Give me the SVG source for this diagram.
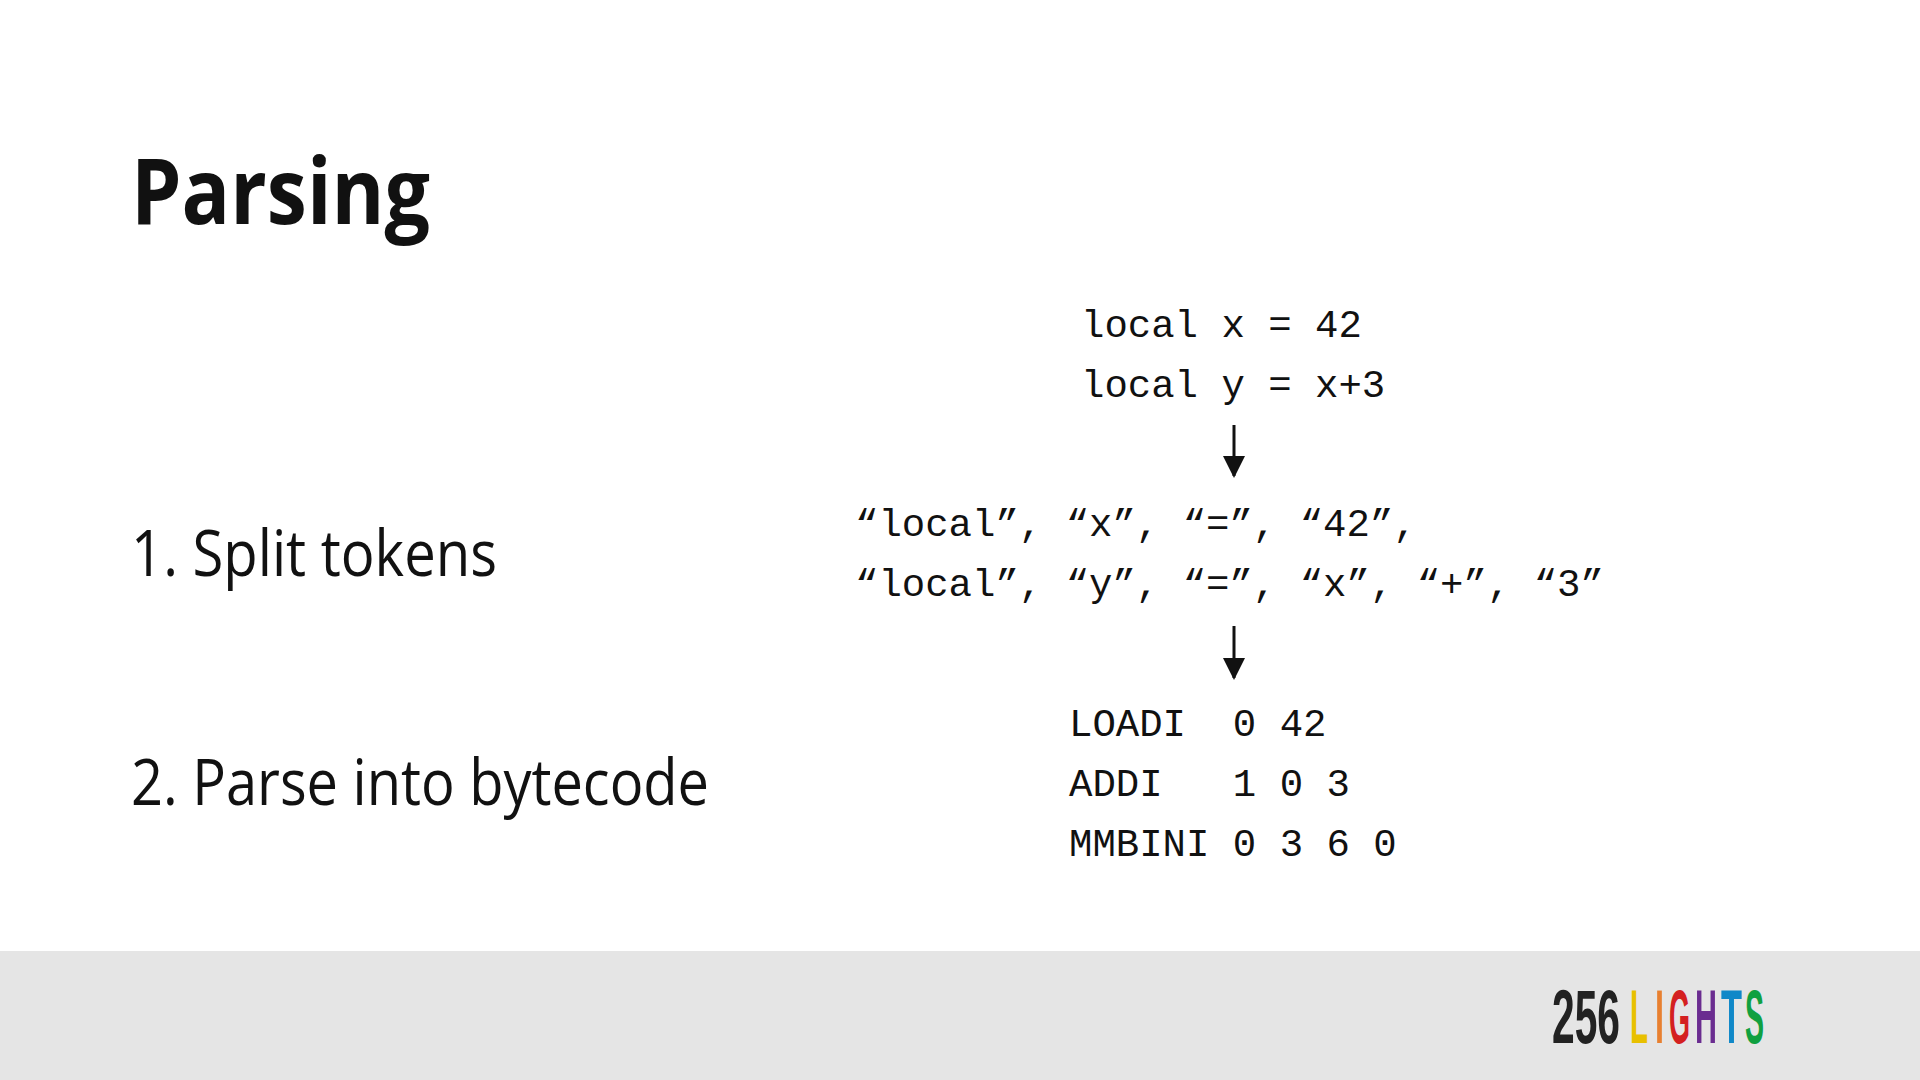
<svg xmlns="http://www.w3.org/2000/svg" width="1920" height="1080" viewBox="0 0 1920 1080">
<style>
.t{font-family:"Open Sans","Liberation Sans",sans-serif;fill:#111}
.m{font-family:"Liberation Mono","DejaVu Sans Mono",monospace;font-size:39px;fill:#111}
.lg{font-family:"Liberation Sans",sans-serif;font-size:76px;font-weight:bold}
</style>
<defs><marker id="ah" markerWidth="22" markerHeight="22" refX="20" refY="11" orient="auto" markerUnits="userSpaceOnUse" viewBox="0 0 22 22"><path d="M0,0 L22,11 L0,22 z" fill="#111"/></marker></defs>
<rect width="1920" height="1080" fill="#fff"/>
<rect y="951" width="1920" height="129" fill="#e5e5e5"/>
<text id="title" class="t" x="131" y="224" font-size="92" font-weight="bold" textLength="299" lengthAdjust="spacingAndGlyphs">Parsing</text>
<g id="step1"><text class="t" x="131" y="576" font-size="64" textLength="366" lengthAdjust="spacingAndGlyphs">1. Split tokens</text></g>
<g id="step2"><text class="t" x="131" y="805" font-size="64" textLength="578" lengthAdjust="spacingAndGlyphs">2. Parse into bytecode</text></g>
<g id="source"><text class="m" x="1081" y="337" xml:space="preserve">local x = 42</text><text class="m" x="1081" y="397" xml:space="preserve">local y = x+3</text></g>
<g id="tokens"><text class="m" x="855" y="536" xml:space="preserve">“local”, “x”, “=”, “42”,</text><text class="m" x="855" y="596" xml:space="preserve">“local”, “y”, “=”, “x”, “+”, “3”</text></g>
<g id="bytecode"><text class="m" x="1069" y="736" xml:space="preserve">LOADI  0 42</text><text class="m" x="1069" y="796" xml:space="preserve">ADDI   1 0 3</text><text class="m" x="1069" y="856" xml:space="preserve">MMBINI 0 3 6 0</text></g>
<g id="connectors" stroke="#111" stroke-width="3">
<line x1="1234" y1="425" x2="1234" y2="476" marker-end="url(#ah)"/>
<line x1="1234" y1="626" x2="1234" y2="678" marker-end="url(#ah)"/>
</g>
<g id="logo" class="lg">
<text x="1552" y="1043" fill="#222" textLength="68" lengthAdjust="spacingAndGlyphs">256</text>
<text x="1630" y="1043" fill="#e8c000" textLength="18" lengthAdjust="spacingAndGlyphs">L</text>
<text x="1655" y="1043" fill="#e88030" textLength="9" lengthAdjust="spacingAndGlyphs">I</text>
<text x="1669" y="1043" fill="#d42020" textLength="21" lengthAdjust="spacingAndGlyphs">G</text>
<text x="1695" y="1043" fill="#6a2c90" textLength="22" lengthAdjust="spacingAndGlyphs">H</text>
<text x="1721" y="1043" fill="#1088c8" textLength="21" lengthAdjust="spacingAndGlyphs">T</text>
<text x="1745" y="1043" fill="#10a040" textLength="19" lengthAdjust="spacingAndGlyphs">S</text>
</g>
</svg>
